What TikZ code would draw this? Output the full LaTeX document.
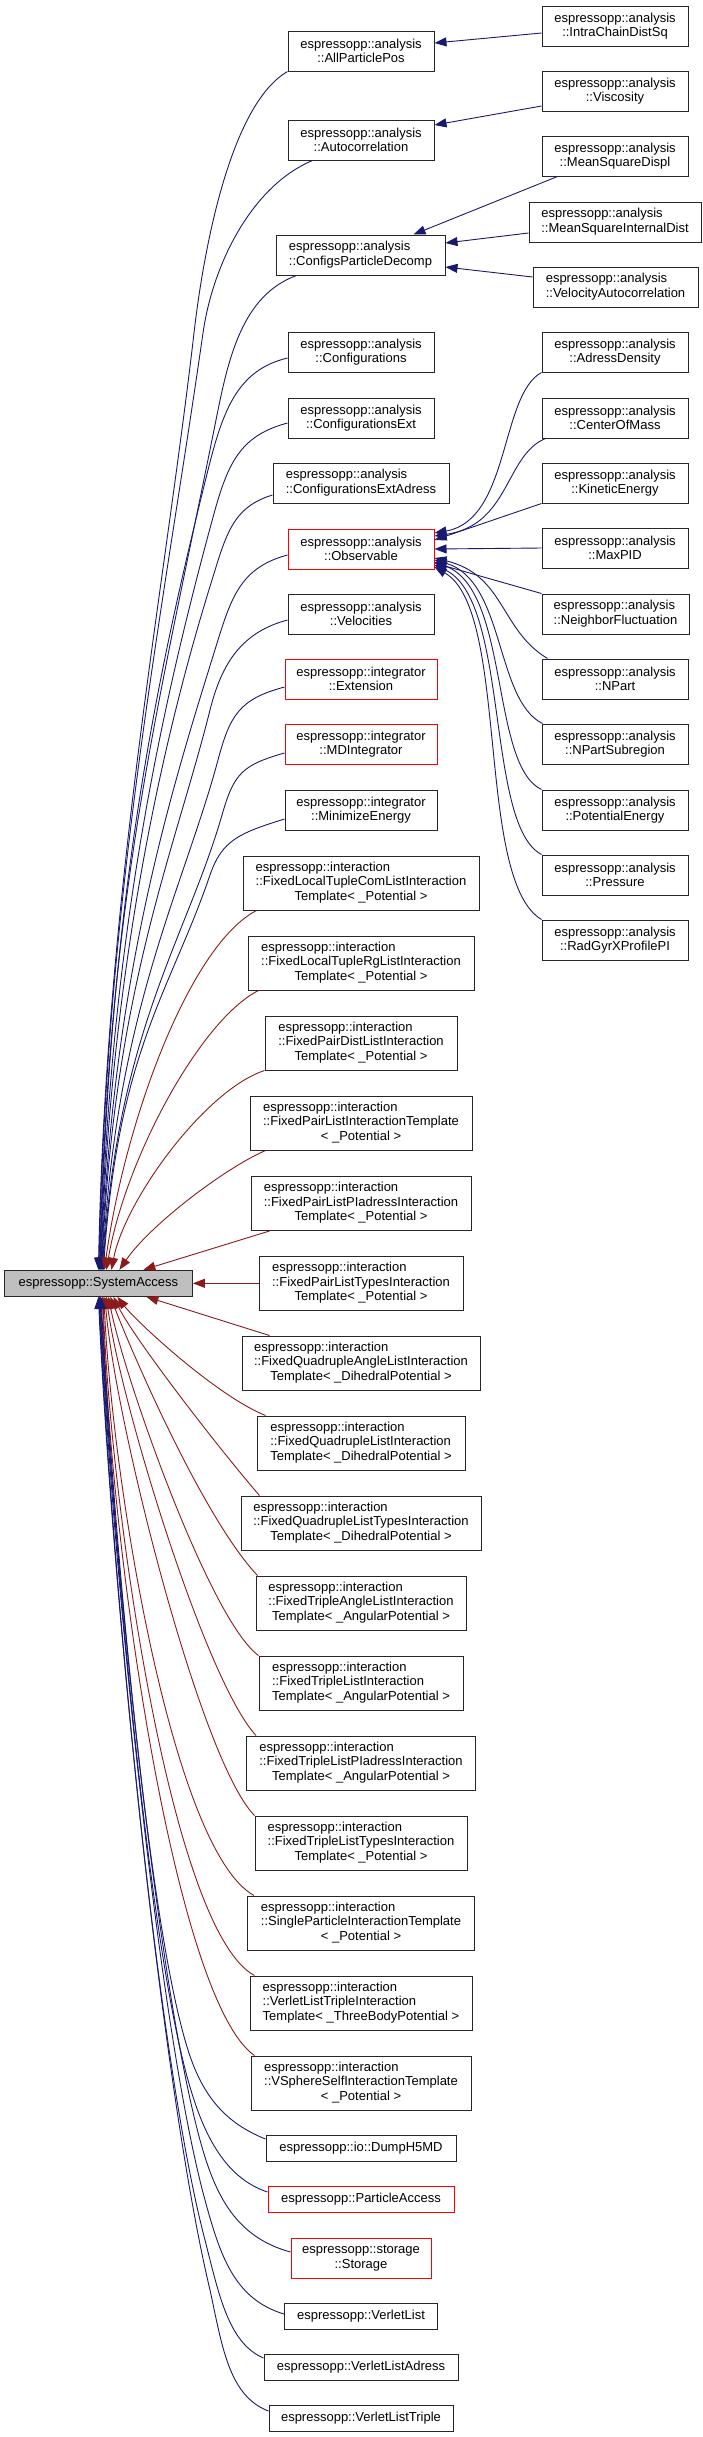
\documentclass[tikz,border=0pt]{standalone}
\usepackage{fontspec}
\setmainfont{Liberation Sans}
\usetikzlibrary{arrows.meta}
\definecolor{dblue}{HTML}{191970}
\definecolor{dred}{HTML}{8B1A1A}
\newcommand\twoleft[2]{\begin{tabular}{@{}l@{}}#1\\#2\end{tabular}}
\newcommand\threelines[3]{\begin{tabular}{@{}l@{}}#1\\#2\\\multicolumn{1}{@{}c@{}}{#3}\end{tabular}}
\tikzset{
  cls/.style={draw=black!85, line width=1pt, fill=white, inner sep=0pt, align=center,
    font=\fontsize{13}{14.5}\selectfont},
  redcls/.style={cls, draw=red},
  two/.style={minimum height=40pt},
  three/.style={minimum height=54pt},
  one/.style={minimum height=26pt},
  pub/.style={draw=dblue, line width=0.9pt, -{Triangle[length=12pt,width=9pt]}},
  priv/.style={pub, draw=dred},
}
\begin{document}
\begin{tikzpicture}[x=1pt,y=-1pt]
\useasboundingbox (0,0) rectangle (703,2437);

% root
\node[cls, fill=gray!50, minimum width=188pt, one] (sa) at (98.4,1283.3) {espressopp::SystemAccess};

% middle column
\node[cls, two, minimum width=146pt] (app) at (361,51) {espressopp::analysis\\::AllParticlePos};
\node[cls, two, minimum width=146pt] (ac) at (361,140) {espressopp::analysis\\::Autocorrelation};
\node[cls, two, minimum width=169pt] (cpd) at (360.5,255) {\twoleft{espressopp::analysis}{::ConfigsParticleDecomp}};
\node[cls, two, minimum width=146pt] (cf) at (361,352) {espressopp::analysis\\::Configurations};
\node[cls, two, minimum width=146pt] (cfe) at (361,418) {espressopp::analysis\\::ConfigurationsExt};
\node[cls, two, minimum width=176pt] (cfea) at (361,483) {\twoleft{espressopp::analysis}{::ConfigurationsExtAdress}};
\node[redcls, two, minimum width=146pt] (obs) at (361,549) {espressopp::analysis\\::Observable};
\node[cls, two, minimum width=146pt] (vel) at (361,614) {espressopp::analysis\\::Velocities};
\node[redcls, two, minimum width=152pt] (ext) at (361,679) {espressopp::integrator\\::Extension};
\node[redcls, two, minimum width=152pt] (mdi) at (361,744) {espressopp::integrator\\::MDIntegrator};
\node[cls, two, minimum width=152pt] (min) at (361,810) {espressopp::integrator\\::MinimizeEnergy};
\node[cls, three, minimum width=236pt] (fltc) at (361,883) {\threelines{espressopp::interaction}{::FixedLocalTupleComListInteraction}{Template< \_Potential >}};
\node[cls, three, minimum width=226pt] (fltr) at (361,963) {\threelines{espressopp::interaction}{::FixedLocalTupleRgListInteraction}{Template< \_Potential >}};
\node[cls, three, minimum width=192pt] (fpd) at (361,1043) {\threelines{espressopp::interaction}{::FixedPairDistListInteraction}{Template< \_Potential >}};
\node[cls, three, minimum width=222pt] (fpl) at (361,1123) {\threelines{espressopp::interaction}{::FixedPairListInteractionTemplate}{< \_Potential >}};
\node[cls, three, minimum width=220pt] (fplp) at (361,1203.5) {\threelines{espressopp::interaction}{::FixedPairListPIadressInteraction}{Template< \_Potential >}};
\node[cls, three, minimum width=204pt] (fplt) at (361,1283.3) {\threelines{espressopp::interaction}{::FixedPairListTypesInteraction}{Template< \_Potential >}};
\node[cls, three, minimum width=238pt] (fqa) at (361,1363) {\threelines{espressopp::interaction}{::FixedQuadrupleAngleListInteraction}{Template< \_DihedralPotential >}};
\node[cls, three, minimum width=208pt] (fql) at (361,1443) {\threelines{espressopp::interaction}{::FixedQuadrupleListInteraction}{Template< \_DihedralPotential >}};
\node[cls, three, minimum width=240pt] (fqlt) at (361,1523) {\threelines{espressopp::interaction}{::FixedQuadrupleListTypesInteraction}{Template< \_DihedralPotential >}};
\node[cls, three, minimum width=210pt] (fta) at (361,1603) {\threelines{espressopp::interaction}{::FixedTripleAngleListInteraction}{Template< \_AngularPotential >}};
\node[cls, three, minimum width=204pt] (ftl) at (361,1683) {\threelines{espressopp::interaction}{::FixedTripleListInteraction}{Template< \_AngularPotential >}};
\node[cls, three, minimum width=229pt] (ftlp) at (361,1763) {\threelines{espressopp::interaction}{::FixedTripleListPIadressInteraction}{Template< \_AngularPotential >}};
\node[cls, three, minimum width=212pt] (ftlt) at (361,1843) {\threelines{espressopp::interaction}{::FixedTripleListTypesInteraction}{Template< \_Potential >}};
\node[cls, three, minimum width=227pt] (spi) at (361,1923) {\threelines{espressopp::interaction}{::SingleParticleInteractionTemplate}{< \_Potential >}};
\node[cls, three, minimum width=222pt] (vlti) at (361,2003) {\threelines{espressopp::interaction}{::VerletListTripleInteraction}{Template< \_ThreeBodyPotential >}};
\node[cls, three, minimum width=220pt] (vss) at (361,2083) {\threelines{espressopp::interaction}{::VSphereSelfInteractionTemplate}{< \_Potential >}};
\node[cls, one, minimum width=190pt] (dump) at (361,2148.5) {espressopp::io::DumpH5MD};
\node[redcls, one, minimum width=186pt] (pa) at (361,2199) {espressopp::ParticleAccess};
\node[redcls, two, minimum width=140pt] (sto) at (361,2258) {espressopp::storage\\::Storage};
\node[cls, one, minimum width=153pt] (vl) at (361,2316) {espressopp::VerletList};
\node[cls, one, minimum width=194pt] (vla) at (361,2367) {espressopp::VerletListAdress};
\node[cls, one, minimum width=184pt] (vlt) at (361,2418) {espressopp::VerletListTriple};

% right column
\node[cls, two, minimum width=146pt] (icd) at (615,26) {espressopp::analysis\\::IntraChainDistSq};
\node[cls, two, minimum width=146pt] (vis) at (615,91) {espressopp::analysis\\::Viscosity};
\node[cls, two, minimum width=146pt] (msd) at (615,156) {espressopp::analysis\\::MeanSquareDispl};
\node[cls, two, minimum width=172pt] (msid) at (615,222) {\twoleft{espressopp::analysis}{::MeanSquareInternalDist}};
\node[cls, two, minimum width=165pt] (vac) at (615.5,287) {\twoleft{espressopp::analysis}{::VelocityAutocorrelation}};
\node[cls, two, minimum width=146pt] (ad) at (615,352) {espressopp::analysis\\::AdressDensity};
\node[cls, two, minimum width=146pt] (com) at (615,418) {espressopp::analysis\\::CenterOfMass};
\node[cls, two, minimum width=146pt] (ke) at (615,483) {espressopp::analysis\\::KineticEnergy};
\node[cls, two, minimum width=146pt] (max) at (615,548) {espressopp::analysis\\::MaxPID};
\node[cls, two, minimum width=147pt] (nf) at (615.5,614) {\twoleft{espressopp::analysis}{::NeighborFluctuation}};
\node[cls, two, minimum width=146pt] (np) at (615,679) {espressopp::analysis\\::NPart};
\node[cls, two, minimum width=146pt] (nps) at (615,744) {espressopp::analysis\\::NPartSubregion};
\node[cls, two, minimum width=146pt] (pe) at (615,810) {espressopp::analysis\\::PotentialEnergy};
\node[cls, two, minimum width=146pt] (pr) at (615,875) {espressopp::analysis\\::Pressure};
\node[cls, two, minimum width=146pt] (rg) at (615,940) {espressopp::analysis\\::RadGyrXProfilePI};

% right -> middle
\draw[pub] ([yshift=-7pt]icd.west) -- ([yshift=8pt]app.east);
\draw[pub] ([yshift=-15pt]vis.west) -- ([yshift=15pt]ac.east);
\draw[pub] ([xshift=16pt]msd.south west) -- ([xshift=-32pt]cpd.north east);
\draw[pub] ([yshift=-11pt]msid.west) -- ([yshift=12pt]cpd.east);
\draw[pub] ([yshift=10pt]vac.west) -- ([yshift=-12pt]cpd.east);

\draw[pub] (ad.south west) .. controls (500,395) and (510,520) .. ([yshift=16pt]obs.east);
\draw[pub] ([xshift=4pt]com.south west) .. controls (505,455) and (510,525) .. ([yshift=13pt]obs.east);
\draw[pub] (ke.south west) -- ([yshift=9pt]obs.east);
\draw[pub] (max.west) -- (obs.east);
\draw[pub] (nf.north west) -- ([yshift=-14pt]obs.east);
\draw[pub] ([xshift=6pt]np.north west) .. controls (500,630) and (505,575) .. ([yshift=-9pt]obs.east);
\draw[pub] ([xshift=1pt]nps.north west) .. controls (495,700) and (505,580) .. ([yshift=-11pt]obs.east);
\draw[pub] (pe.north west) .. controls (490,765) and (510,590) .. ([yshift=-13pt]obs.east);
\draw[pub] (pr.north west) .. controls (485,825) and (510,600) .. ([yshift=-16pt]obs.east);
\draw[pub] (rg.north west) .. controls (475,880) and (510,610) .. ([yshift=-18pt]obs.east);

% middle -> root, top side (blue)
\draw[pub] (app.south west) .. controls +(-60,35) and +(8,-70) .. (194,333) .. controls +(-30,260) and +(8,-380) .. (sa.north);
\draw[pub] ([xshift=25pt]ac.south west) .. controls +(-60,25) and +(10,-70) .. (203,333) .. controls +(-40,280) and +(8,-380) .. ([xshift=0.5pt]sa.north);
\draw[pub] ([xshift=21pt]cpd.south west) .. controls +(-55,20) and +(12,-60) .. (216,420) .. controls +(-60,300) and +(10,-380) .. ([xshift=1pt]sa.north);
\draw[pub] ([yshift=-6pt]cf.west) .. controls +(-50,12) and +(15,-60) .. (208,470) .. controls +(-60,240) and +(10,-350) .. ([xshift=1.5pt]sa.north);
\draw[pub] ([yshift=-5pt]cfe.west) .. controls +(-45,12) and +(14,-50) .. (215,510) .. controls +(-55,200) and +(10,-330) .. ([xshift=2pt]sa.north);
\draw[pub] ([yshift=-12pt]cfea.west) .. controls +(-40,12) and +(14,-45) .. (212,580) .. controls +(-50,160) and +(10,-300) .. ([xshift=2.5pt]sa.north);
\draw[pub] ([yshift=-6pt]obs.west) .. controls +(-45,12) and +(14,-45) .. (218,640) .. controls +(-45,145) and +(12,-300) .. ([xshift=3pt]sa.north);
\draw[pub] ([yshift=-6pt]vel.west) .. controls +(-45,12) and +(12,-48) .. (210,710) .. controls +(-35,140) and +(12,-280) .. ([xshift=3.5pt]sa.north);
\draw[pub] ([yshift=-8pt]ext.west) .. controls +(-45,12) and +(12,-45) .. (218,760) .. controls +(-35,130) and +(14,-260) .. ([xshift=4pt]sa.north);
\draw[pub] ([yshift=-9pt]mdi.west) .. controls +(-42,12) and +(12,-42) .. (222,815) .. controls +(-35,122) and +(15,-240) .. ([xshift=4.5pt]sa.north);
\draw[pub] ([yshift=-9pt]min.west) .. controls +(-45,14) and +(12,-35) .. (210,875) .. controls +(-40,117) and +(15,-220) .. ([xshift=5pt]sa.north);

% middle -> root, top side (red)
\draw[priv] ([xshift=14pt]fltc.south west) .. controls (190,945) and (125,1120) .. ([xshift=6pt]sa.north);
\draw[priv] ([xshift=11pt]fltr.south west) .. controls (200,1020) and (125,1160) .. ([xshift=8pt]sa.north);
\draw[priv] (fpd.south west) .. controls (205,1090) and (125,1200) .. ([xshift=13pt]sa.north);
\draw[priv] ([xshift=16pt]fpl.south west) .. controls (225,1168) and (150,1225) .. ([xshift=21pt]sa.north);
\draw[priv] ([xshift=19pt]fplp.south west) -- ([xshift=45pt]sa.north);
\draw[priv] (fplt.west) -- (sa.east);

% middle -> root, bottom side (red)
\draw[priv] ([xshift=28pt]fqa.north west) -- ([xshift=48pt]sa.south);
\draw[priv] ([xshift=9pt]fql.north west) .. controls (215,1395) and (135,1320) .. ([xshift=19pt]sa.south);
\draw[priv] ([xshift=19pt]fqlt.north west) .. controls (220,1450) and (135,1340) .. ([xshift=15pt]sa.south);
\draw[priv] ([xshift=2pt]fta.north west) .. controls (205,1520) and (135,1360) .. ([xshift=12pt]sa.south);
\draw[priv] (ftl.north west) .. controls (210,1620) and (125,1380) .. ([xshift=10pt]sa.south);
\draw[priv] ([xshift=10pt]ftlp.north west) .. controls (205,1680) and (120,1400) .. ([xshift=8pt]sa.south);
\draw[priv] (ftlt.north west) .. controls (200,1760) and (115,1420) .. ([xshift=6.5pt]sa.south);
\draw[priv] ([xshift=7pt]spi.north west) .. controls (172,1850) and (112,1480) .. ([xshift=5.5pt]sa.south);
\draw[priv] ([xshift=5pt]vlti.north west) .. controls (170,1930) and (110,1500) .. ([xshift=4.5pt]sa.south);
\draw[priv] ([xshift=4pt]vss.north west) .. controls (175,2000) and (110,1550) .. ([xshift=4pt]sa.south);

% middle -> root, bottom side (blue)
\draw[pub] ([yshift=9.5pt]dump.west) .. controls +(-45,-18) and +(14,50) .. (185,2040) .. controls +(-40,-140) and +(12,220) .. ([xshift=2.5pt]sa.south);
\draw[pub] ([yshift=7pt]pa.west) .. controls +(-45,-15) and +(14,50) .. (188,2080) .. controls +(-42,-150) and +(12,230) .. ([xshift=2pt]sa.south);
\draw[pub] ([yshift=6pt]sto.west) .. controls +(-55,-15) and +(15,55) .. (200,2140) .. controls +(-45,-165) and +(12,240) .. ([xshift=1.5pt]sa.south);
\draw[pub] ([yshift=2pt]vl.west) .. controls +(-50,-15) and +(15,55) .. (205,2200) .. controls +(-48,-175) and +(12,250) .. ([xshift=1pt]sa.south);
\draw[pub] ([yshift=9pt]vla.west) .. controls +(-35,-15) and +(14,55) .. (205,2240) .. controls +(-50,-190) and +(12,260) .. ([xshift=0.5pt]sa.south);
\draw[pub] ([yshift=7pt]vlt.west) .. controls +(-40,-15) and +(12,55) .. (210,2290) .. controls +(-50,-210) and +(12,270) .. (sa.south);
\end{tikzpicture}
\end{document}
